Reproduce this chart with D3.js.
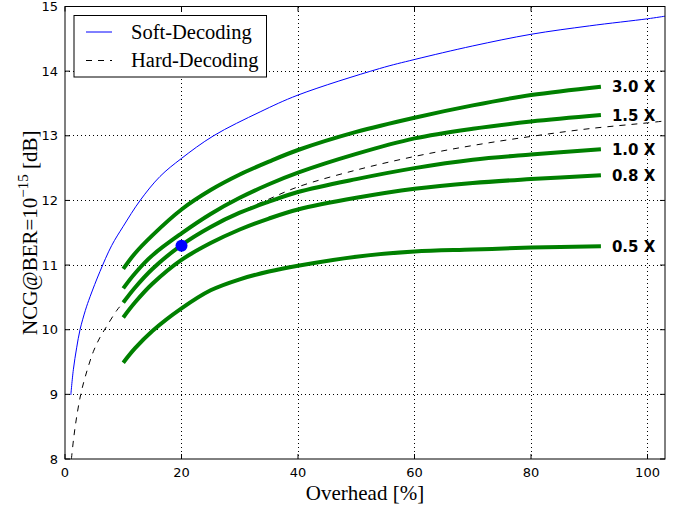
<!DOCTYPE html>
<html>
<head>
<meta charset="utf-8">
<script src="https://cdn.jsdelivr.net/npm/d3@7/dist/d3.min.js"></script>
<style>
  html, body { margin: 0; padding: 0; background: #fff; }
  svg { display: block; }
</style>
</head>
<body>
<svg id="chart" width="687" height="507"></svg>
<script>
// Soft-decision reference curve
const overheadSoft = [1.0, 1.43, 2.0, 2.58, 3.5, 4.3, 6.0, 8.0, 10.0, 12.9, 16.3, 20, 25.5, 33.5, 40, 54, 60, 70, 80, 90, 100, 103];
const ncgSoft      = [8.99, 9.38, 9.72, 10.0, 10.3, 10.51, 10.9, 11.3, 11.6, 12.0, 12.37, 12.65, 13.0, 13.37, 13.63, 14.04, 14.18, 14.39, 14.57, 14.70, 14.81, 14.85];

// Hard-decision reference curve
const overheadHard = [1.1, 1.5, 2.0, 2.7, 3.5, 4.86, 6.0, 7.0, 8.9, 10, 12, 15, 20, 25, 30, 35, 40, 50, 60, 70, 80, 90, 100, 103];
const ncgHard      = [8.0, 8.33, 8.65, 9.0, 9.28, 9.66, 9.88, 10.03, 10.30, 10.42, 10.65, 10.94, 11.31, 11.59, 11.82, 12.02, 12.21, 12.47, 12.68, 12.85, 12.99, 13.11, 13.20, 13.23];

// Code families at different complexity factors
const overheadCodes = [10, 12, 15, 20, 25, 30, 35, 40, 50, 60, 70, 80, 92];
const ncg3p0 = [10.94, 11.18, 11.46, 11.86, 12.16, 12.40, 12.60, 12.78, 13.06, 13.28, 13.47, 13.63, 13.76];
const ncg1p5 = [10.64, 10.87, 11.15, 11.49, 11.79, 12.04, 12.25, 12.43, 12.72, 12.96, 13.11, 13.22, 13.32];
const ncg1p0 = [10.42, 10.65, 10.94, 11.31, 11.59, 11.81, 11.98, 12.13, 12.33, 12.50, 12.63, 12.71, 12.79];
const ncg0p8 = [10.19, 10.42, 10.71, 11.08, 11.34, 11.55, 11.72, 11.86, 12.04, 12.18, 12.27, 12.33, 12.39];
const ncg0p5 = [9.49, 9.71, 9.98, 10.33, 10.61, 10.78, 10.90, 10.99, 11.13, 11.21, 11.24, 11.27, 11.29];
const codeLabels = ["3.0 X", "1.5 X", "1.0 X", "0.8 X", "0.5 X"];

// Highlighted operating point
const markerOverhead = 20;
const markerNcg = 11.30;

// Axis ticks
const xTicks = [0, 20, 40, 60, 80, 100];
const yTicks = [8, 9, 10, 11, 12, 13, 14, 15];

const svg = d3.select("#chart");
const plotLeft = 65, plotRight = 665, plotTop = 6.5, plotBottom = 459;

const x = d3.scaleLinear().domain([0, 103]).range([plotLeft, plotRight]);
const y = d3.scaleLinear().domain([8, 15]).range([plotBottom, plotTop]);

svg.append("defs").append("clipPath").attr("id", "plotClip")
  .append("rect").attr("x", plotLeft).attr("y", plotTop)
  .attr("width", plotRight - plotLeft).attr("height", plotBottom - plotTop);

// Dotted grid
const grid = svg.append("g").attr("shape-rendering", "crispEdges");
grid.selectAll(".gx").data(xTicks.filter(t => t > 0)).join("line")
  .attr("x1", d => x(d)).attr("x2", d => x(d))
  .attr("y1", plotTop).attr("y2", plotBottom)
  .attr("stroke", "#000").attr("stroke-width", 1).attr("stroke-dasharray", "1,3");
grid.selectAll(".gy").data(yTicks.filter(t => t > 8 && t < 15)).join("line")
  .attr("x1", plotLeft).attr("x2", plotRight)
  .attr("y1", d => y(d)).attr("y2", d => y(d))
  .attr("stroke", "#000").attr("stroke-width", 1).attr("stroke-dasharray", "1,3");

const plot = svg.append("g").attr("clip-path", "url(#plotClip)");
const line = d3.line().x(d => x(d[0])).y(d => y(d[1])).curve(d3.curveCatmullRom.alpha(0.5));

// Soft and hard decoding references
plot.append("path")
  .datum(d3.zip(overheadSoft, ncgSoft))
  .attr("d", line).attr("fill", "none")
  .attr("stroke", "#0000ff").attr("stroke-width", 1);
plot.append("path")
  .datum(d3.zip(overheadHard, ncgHard))
  .attr("d", line).attr("fill", "none")
  .attr("stroke", "#000").attr("stroke-width", 1).attr("stroke-dasharray", "6,6");

// Code family curves
const families = [ncg3p0, ncg1p5, ncg1p0, ncg0p8, ncg0p5];
families.forEach(vals => {
  plot.append("path")
    .datum(d3.zip(overheadCodes, vals))
    .attr("d", line).attr("fill", "none")
    .attr("stroke", "#008000").attr("stroke-width", 4)
    .attr("stroke-linecap", "butt");
});

// Family labels at the curve ends
const lastX = overheadCodes[overheadCodes.length - 1];
svg.append("g").selectAll("text").data(families).join("text")
  .attr("x", x(lastX) + 11)
  .attr("y", d => y(d[d.length - 1]))
  .attr("dy", "0.36em")
  .attr("font-family", "DejaVu Sans")
  .attr("font-weight", "bold")
  .attr("font-size", 15)
  .attr("fill", "#000")
  .text((d, i) => codeLabels[i]);

// Operating point
plot.append("circle")
  .attr("cx", x(markerOverhead)).attr("cy", y(markerNcg))
  .attr("r", 6).attr("fill", "#0000ff");

// Frame
svg.append("rect").attr("x", plotLeft).attr("y", plotTop)
  .attr("width", plotRight - plotLeft).attr("height", plotBottom - plotTop)
  .attr("fill", "none").attr("stroke", "#000").attr("stroke-width", 1);

// Inward ticks on all four sides
const ticks = svg.append("g").attr("stroke", "#000").attr("stroke-width", 1);
xTicks.forEach(t => {
  ticks.append("line").attr("x1", x(t)).attr("x2", x(t)).attr("y1", plotBottom).attr("y2", plotBottom - 5);
  ticks.append("line").attr("x1", x(t)).attr("x2", x(t)).attr("y1", plotTop).attr("y2", plotTop + 5);
});
yTicks.forEach(t => {
  ticks.append("line").attr("x1", plotLeft).attr("x2", plotLeft + 5).attr("y1", y(t)).attr("y2", y(t));
  ticks.append("line").attr("x1", plotRight).attr("x2", plotRight - 5).attr("y1", y(t)).attr("y2", y(t));
});

// Tick labels
svg.append("g").selectAll("text").data(xTicks).join("text")
  .attr("x", d => x(d)).attr("y", plotBottom + 18)
  .attr("text-anchor", "middle")
  .attr("font-family", "DejaVu Sans").attr("font-size", 13)
  .text(d => d);
svg.append("g").selectAll("text").data(yTicks).join("text")
  .attr("x", plotLeft - 7).attr("y", d => y(d))
  .attr("dy", "0.36em")
  .attr("text-anchor", "end")
  .attr("font-family", "DejaVu Sans").attr("font-size", 13)
  .text(d => d);

// Axis titles
svg.append("text")
  .attr("x", (plotLeft + plotRight) / 2).attr("y", 500)
  .attr("text-anchor", "middle")
  .attr("font-family", "Liberation Serif").attr("font-size", 21)
  .text("Overhead [%]");

const yTitle = svg.append("text")
  .attr("transform", `translate(37,${(plotTop + plotBottom) / 2}) rotate(-90)`)
  .attr("text-anchor", "middle")
  .attr("font-family", "Liberation Serif").attr("font-size", 21);
yTitle.append("tspan").text("NCG");
yTitle.append("tspan").attr("font-style", "italic").text("@");
yTitle.append("tspan").text("BER=10");
yTitle.append("tspan").attr("dy", -9).attr("font-size", 15).text("\u221215");
yTitle.append("tspan").attr("dy", 9).text("\u00a0[dB]");

// Legend
const legend = svg.append("g");
legend.append("rect").attr("x", 74).attr("y", 15.5).attr("width", 192.5).attr("height", 61.5)
  .attr("fill", "#fff").attr("stroke", "#000").attr("stroke-width", 1);
legend.append("line").attr("x1", 86).attr("x2", 112).attr("y1", 32).attr("y2", 32)
  .attr("stroke", "#0000ff").attr("stroke-width", 1);
legend.append("line").attr("x1", 86).attr("x2", 112).attr("y1", 60.5).attr("y2", 60.5)
  .attr("stroke", "#000").attr("stroke-width", 1).attr("stroke-dasharray", "6,6");
legend.append("text").attr("x", 131).attr("y", 38.5)
  .attr("font-family", "Liberation Serif").attr("font-size", 20.5).text("Soft-Decoding");
legend.append("text").attr("x", 131).attr("y", 66.5)
  .attr("font-family", "Liberation Serif").attr("font-size", 20.5).text("Hard-Decoding");
</script>
</body>
</html>
